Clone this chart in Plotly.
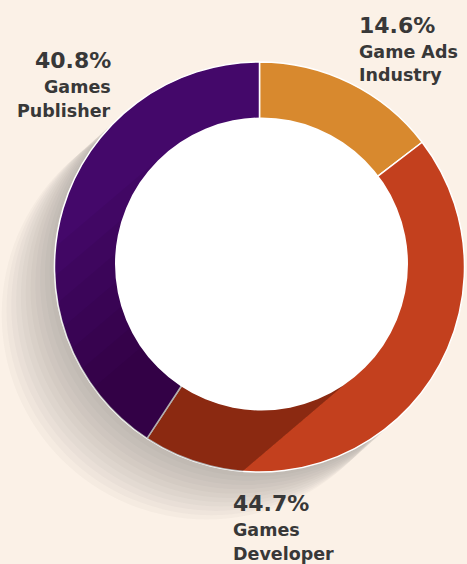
import math
import plotly.graph_objects as go

labels = ["Game Ads Industry", "Games Developer", "Games Publisher"]
values = [14.6, 44.7, 40.8]
pct_text = ["14.6%", "44.7%", "40.8%"]
colors = ["#D8892E", "#C3401E", "#44086A"]

W, H = 467, 564
cx, cy, R = 259.5, 267.0, 205.0      # ring centre / outer radius (px)
icx, icy, ir = 261.5, 264.0, 146.5   # white centre disc (px)

def px(x):
    return x / W

def py(y):
    return 1 - y / H

fig = go.Figure()
fig.add_trace(go.Pie(
    labels=labels, values=values, sort=False, direction="clockwise", rotation=0,
    hole=0.69, textinfo="none", hoverinfo="label+percent",
    marker=dict(colors=colors, line=dict(color="#FFFFFF", width=1.5)),
    domain=dict(x=[px(cx - R), px(cx + R)], y=[py(cy + R), py(cy - R)]),
    showlegend=False,
))

shapes = []
# soft long shadow on the background, lower-left
for k in range(1, 12):
    off = 4.8 * k
    ccx, ccy = cx - off, cy + off * 0.9
    shapes.append(dict(type="circle", xref="paper", yref="paper", layer="below",
                       x0=px(ccx - R), x1=px(ccx + R), y0=py(ccy + R), y1=py(ccy - R),
                       fillcolor="rgba(95,90,80,0.035)", line=dict(width=0)))

# long shadow of the centre disc falling across the ring (decorative)
dx, dy = -1.0, 0.85
n = math.hypot(dx, dy)
dx, dy = dx / n, dy / n
ux, uy = abs(dy), abs(dx)   # unit normal pointing lower-right
T2 = (icx + ir * ux - 6, icy + ir * uy + 4)    # lower-right tangent point
T1 = (icx - ir * ux, icy - ir * uy)    # upper-left tangent point

def hit(T):
    ox, oy = T[0] - cx, T[1] - cy
    b = ox * dx + oy * dy
    c = ox * ox + oy * oy - R * R
    t = -b + math.sqrt(b * b - c)
    return (T[0] + t * dx, T[1] + t * dy)

def band_path(Ta, Tb):
    P1, P2 = hit(Ta), hit(Tb)
    a1 = math.atan2(P1[1] - cy, P1[0] - cx)
    a2 = math.atan2(P2[1] - cy, P2[0] - cx)
    if a1 < a2:
        a1 += 2 * math.pi
    pts = [Ta, P1]
    steps = 60
    for i in range(1, steps):
        a = a1 + (a2 - a1) * i / steps
        pts.append((cx + R * math.cos(a), cy + R * math.sin(a)))
    pts += [P2, Tb]
    return "M " + " L ".join(f"{px(x):.5f},{py(y):.5f}" for x, y in pts) + " Z"

nlayers = 7
for k in range(nlayers):
    s = 22.0 * k
    Ta = (T1[0] + s * ux, T1[1] + s * uy)
    shapes.append(dict(type="path", xref="paper", yref="paper", layer="above",
                       path=band_path(Ta, T2), fillcolor="rgba(20,0,0,0.05)",
                       line=dict(width=0)))

# white centre
shapes.append(dict(type="circle", xref="paper", yref="paper", layer="above",
                   x0=px(icx - ir), x1=px(icx + ir), y0=py(icy + ir), y1=py(icy - ir),
                   fillcolor="#FFFFFF", line=dict(width=0)))

font_fam = "DejaVu Sans, sans-serif"
pct_font = dict(family=font_fam, size=22, color="#383838")
lab_font = dict(family=font_fam, size=17.5, color="#383838")

ann = []
def add_label(x, y, anchor, pct, lines):
    ann.append(dict(x=px(x), y=py(y), xref="paper", yref="paper", xanchor=anchor,
                    yanchor="middle", text="<b>" + pct + "</b>", showarrow=False,
                    font=pct_font))
    for i, t in enumerate(lines):
        ann.append(dict(x=px(x), y=py(y + 27 + 23.5 * i), xref="paper", yref="paper",
                        xanchor=anchor, yanchor="middle", text="<b>" + t + "</b>",
                        showarrow=False, font=lab_font))

add_label(357, 25, "left", pct_text[0], ["Game Ads", "Industry"])
add_label(231, 503, "left", pct_text[1], ["Games", "Developer"])
add_label(113, 60, "right", pct_text[2], ["Games", "Publisher"])

fig.update_layout(
    width=W, height=H, margin=dict(l=0, r=0, t=0, b=0),
    paper_bgcolor="#FBF1E7", plot_bgcolor="#FBF1E7",
    shapes=shapes, annotations=ann,
)
fig.write_html("out.html", config={"displayModeBar": False},
               post_script="document.body.style.margin='0';document.body.style.padding='0';"
                           "document.body.style.background='#FBF1E7';")
